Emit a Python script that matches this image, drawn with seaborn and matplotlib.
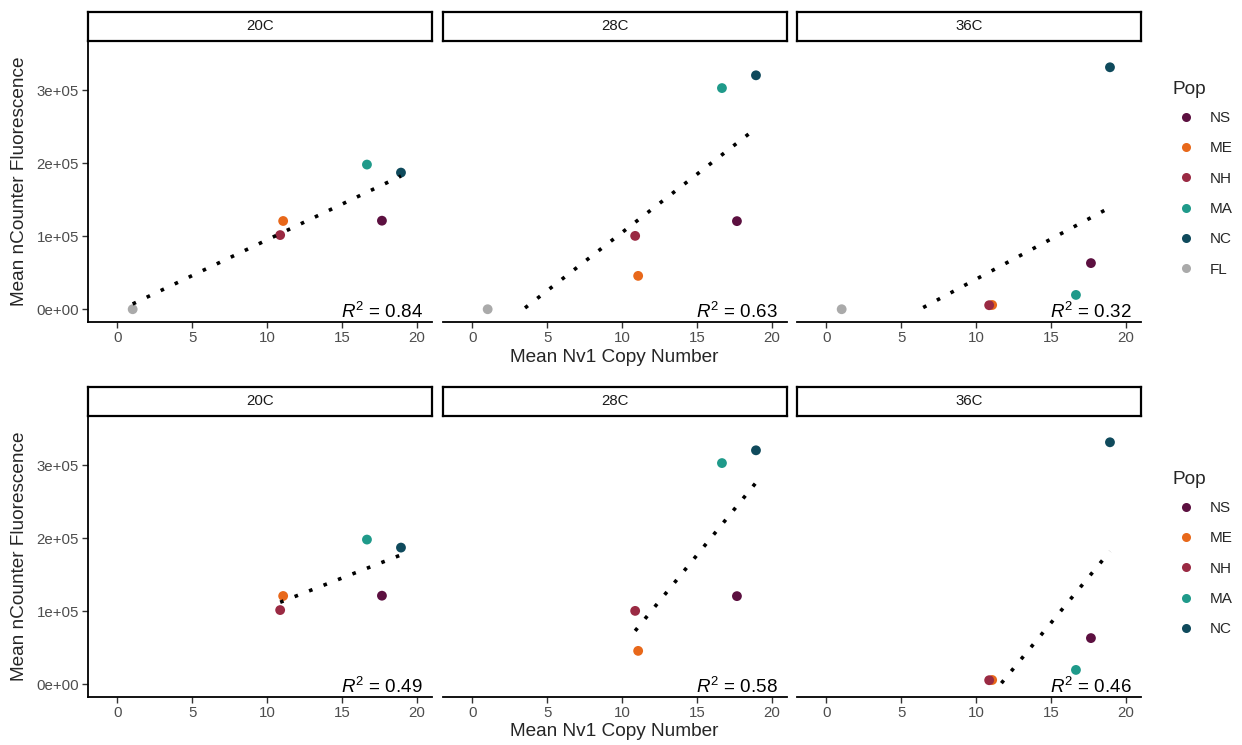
import numpy as np
import pandas as pd
import matplotlib
matplotlib.use("Agg")
import matplotlib.pyplot as plt
from matplotlib.lines import Line2D
import seaborn as sns

# ---- data -------------------------------------------------------------
pops = ["NS", "ME", "NH", "MA", "NC", "FL"]
copy_number = [17.66, 11.07, 10.87, 16.66, 18.93, 1.03]
fluor_20C = [121300, 120900, 101600, 198200, 187200, 0]
fluor_28C = [120700, 45700, 100500, 303000, 320500, 0]
fluor_36C = [63200, 5800, 5500, 19600, 331500, 0]
temps = ["20C", "28C", "36C"]
r2_all = ["0.84", "0.63", "0.32"]
r2_no_fl = ["0.49", "0.58", "0.46"]
pop_colors = ["#5c1040", "#e8681a", "#9a2a43", "#1f9a8a", "#0f4a5c", "#aaaaaa"]
x_ticks = [0, 5, 10, 15, 20]
y_ticks = [0, 100000, 200000, 300000]
y_tick_labels = ["0e+00", "1e+05", "2e+05", "3e+05"]

rows = []
for t, vals in zip(temps, [fluor_20C, fluor_28C, fluor_36C]):
    for p, cn, v in zip(pops, copy_number, vals):
        rows.append({"Temp": t, "Pop": p, "copy": cn, "fluor": v})
df = pd.DataFrame(rows)
palette = dict(zip(pops, pop_colors))

# ---- style ------------------------------------------------------------
sns.set_theme(style="ticks")
plt.rcParams["font.family"] = ["Liberation Sans", "DejaVu Sans"]
plt.rcParams["mathtext.fontset"] = "custom"
plt.rcParams["mathtext.rm"] = "Liberation Sans"
plt.rcParams["mathtext.it"] = "Liberation Sans:italic"

W, H = 1242, 745
fig = plt.figure(figsize=(W / 100, H / 100), dpi=100)


def fx(px):
    return px / W


def fy(py):
    return 1 - py / H


panel_lefts = [88, 443, 797]
panel_w = 344
row_specs = [
    dict(top=41, bottom=322, strip=29, xlab_y=357, leg_title=89, leg_first=120,
         pops=pops, r2=r2_all),
    dict(top=416, bottom=697, strip=29, xlab_y=732, leg_title=479, leg_first=510,
         pops=pops[:5], r2=r2_no_fl),
]

for spec in row_specs:
    sub_pops = spec["pops"]
    for i, (t, left) in enumerate(zip(temps, panel_lefts)):
        ax = fig.add_axes([fx(left), fy(spec["bottom"]), panel_w / W,
                           (spec["bottom"] - spec["top"]) / H])
        d = df[(df["Temp"] == t) & (df["Pop"].isin(sub_pops))]
        sns.scatterplot(data=d, x="copy", y="fluor", hue="Pop",
                        hue_order=sub_pops, palette=palette, s=50,
                        linewidth=0, legend=False, ax=ax, zorder=3)

        # least-squares fit over the data range, dropped below the y limit
        slope, intercept = np.polyfit(d["copy"], d["fluor"], 1)
        xs = np.linspace(d["copy"].min(), d["copy"].max(), 80)
        ys = slope * xs + intercept
        keep = ys >= 0
        ax.plot(xs[keep], ys[keep], color="black", lw=2.6,
                linestyle=(0, (1, 3.3)), zorder=4)

        ax.set_xlim(-1.95, 21.0)
        ax.set_ylim(-17500, 367500)
        ax.set_xticks(x_ticks)
        ax.set_xticklabels([str(v) for v in x_ticks])
        ax.set_xlabel("")
        ax.set_ylabel("")
        ax.tick_params(axis="both", length=4, width=1, color="#333333",
                       labelcolor="#4d4d4d", labelsize=10.8, pad=2.5)
        for s in ["top", "right"]:
            ax.spines[s].set_visible(False)
        ax.spines["bottom"].set_linewidth(1.3)
        ax.spines["bottom"].set_color("black")
        if i == 0:
            ax.set_yticks(y_ticks)
            ax.set_yticklabels(y_tick_labels)
            ax.spines["left"].set_linewidth(1.3)
            ax.spines["left"].set_color("black")
        else:
            ax.set_yticks([])
            ax.spines["left"].set_visible(False)

        ax.text(0.973, 0.014, r"$R^2$ = " + spec["r2"][i], transform=ax.transAxes,
                ha="right", va="baseline", fontsize=13.5, color="black")

        # facet strip
        sax = fig.add_axes([fx(left), fy(spec["top"]), panel_w / W, spec["strip"] / H])
        sax.set_xticks([])
        sax.set_yticks([])
        for s in sax.spines.values():
            s.set_visible(True)
            s.set_linewidth(1.6)
            s.set_color("black")
        sax.text(0.5, 0.5, t, ha="center", va="center", fontsize=10.8,
                 color="#1a1a1a", transform=sax.transAxes)

    # axis titles
    fig.text(fx(614.5), fy(spec["xlab_y"]), "Mean Nv1 Copy Number",
             ha="center", va="center", fontsize=13.7)
    fig.text(fx(20), fy((spec["top"] + spec["bottom"]) / 2),
             "Mean nCounter Fluorescence", rotation=90,
             ha="center", va="center", fontsize=13.7)

    # legend
    fig.text(fx(1172), fy(spec["leg_title"]), "Pop", ha="left", va="center",
             fontsize=13.7)
    handles = [Line2D([], [], marker="o", ls="", markersize=6.5,
                      markerfacecolor=palette[p], markeredgewidth=0, label=p)
               for p in sub_pops]
    fig.legend(handles=handles, loc="upper left",
               bbox_to_anchor=(fx(1178.4), fy(spec["leg_first"] - 9.0)),
               frameon=False, fontsize=11, labelspacing=1.07,
               handlelength=1.0, handletextpad=1.07, borderpad=0,
               borderaxespad=0)

fig.savefig("out.png", dpi=100)
